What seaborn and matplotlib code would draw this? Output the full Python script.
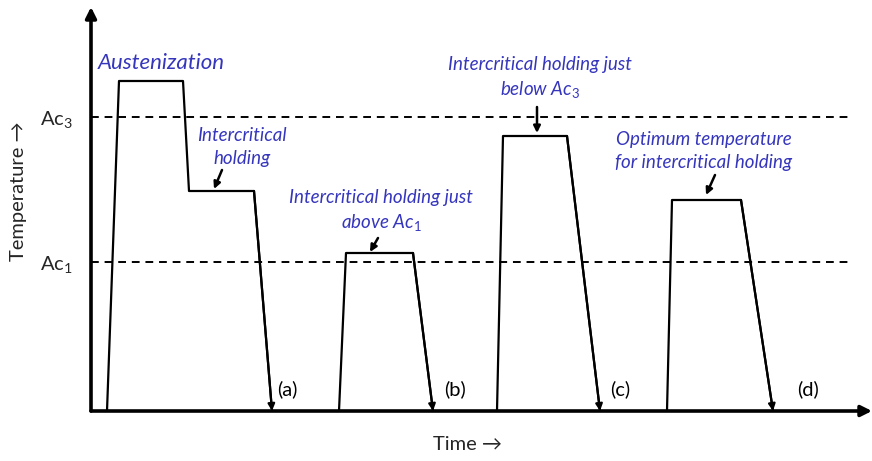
import matplotlib
matplotlib.use("Agg")
import matplotlib.pyplot as plt
import seaborn as sns
import pandas as pd

# Heat-treatment schedules (time in arbitrary units, temperature in arbitrary units)
profiles = ["a", "b", "c", "d"]
time_a = [16, 28, 92, 98, 163, 181]
temp_a = [0, 330, 330, 220, 220, 0]
time_b = [248, 255, 322, 342]
temp_b = [0, 158, 158, 0]
time_c = [406, 412, 476, 509]
temp_c = [0, 275, 275, 0]
time_d = [576, 581, 650, 682]
temp_d = [0, 211, 211, 0]

ac1 = 149
ac3 = 294
critical_ticks = [ac1, ac3]
critical_labels = ["Ac$_1$", "Ac$_3$"]

sns.set_theme(style="white")
plt.rcParams["font.family"] = ["Lato", "DejaVu Sans"]
plt.rcParams["mathtext.fontset"] = "custom"
plt.rcParams["mathtext.rm"] = "Lato"
plt.rcParams["mathtext.it"] = "Lato:italic"

frames = []
for name, t, T in zip(profiles,
                      [time_a, time_b, time_c, time_d],
                      [temp_a, temp_b, temp_c, temp_d]):
    frames.append(pd.DataFrame({"time": t, "temp": T, "profile": name}))
df = pd.concat(frames, ignore_index=True)

fig = plt.figure(figsize=(8.72, 4.61), dpi=100)
ax = fig.add_axes([91 / 872, 50 / 461, 781 / 872, 404 / 461])

sns.lineplot(data=df, x="time", y="temp", hue="profile", units="profile",
             estimator=None, sort=False, palette=["black"] * 4,
             linewidth=1.6, legend=False, ax=ax)

# arrowheads on the quench segments
for t, T in zip([time_a, time_b, time_c, time_d], [temp_a, temp_b, temp_c, temp_d]):
    ax.annotate("", xy=(t[-1], T[-1]), xytext=(t[-2], T[-2]),
                arrowprops=dict(arrowstyle="-|>", lw=1.6, color="black",
                                mutation_scale=10, shrinkA=0, shrinkB=0))

# critical temperatures
for y in critical_ticks:
    ax.axhline(y, xmin=0, xmax=757 / 781, color="black", lw=1.4,
               ls=(0, (4, 3)))

ax.set_xlim(0, 781)
ax.set_ylim(0, 404)
ax.set_xticks([])
ax.set_yticks(critical_ticks)
ax.set_yticklabels(critical_labels, fontsize=14.5)
ax.tick_params(axis="y", length=0, pad=13)

for s in ax.spines.values():
    s.set_visible(False)

# axes drawn as arrows
ax.annotate("", xy=(0, 1.0), xytext=(0, 0), xycoords="axes fraction",
            arrowprops=dict(arrowstyle="-|>", lw=2.6, color="black",
                            mutation_scale=16, shrinkA=0, shrinkB=0))
ax.annotate("", xy=(1.0, 0), xytext=(0, 0), xycoords="axes fraction",
            arrowprops=dict(arrowstyle="-|>", lw=2.6, color="black",
                            mutation_scale=16, shrinkA=0, shrinkB=0))

ax.set_xlabel("Time →", fontsize=14.5, family=["Lato", "DejaVu Sans"])
ax.set_ylabel("Temperature →", fontsize=14.5, family=["Lato", "DejaVu Sans"])
ax.xaxis.set_label_coords((467 - 91) / 781, -(436 - 411) / 404)
ax.yaxis.set_label_coords((27 - 91) / 781, (411 - 191) / 404)

blue = "#3636bd"
txt = dict(color=blue, style="italic", ha="center", va="center",
           linespacing=1.4)

ax.text(70, 348, "Austenization", fontsize=16, **txt)
ax.text(151, 264, "Intercritical\nholding", fontsize=13.5, **txt)
ax.text(290, 200, "Intercritical holding just\nabove Ac$_1$", fontsize=13.5, **txt)
ax.text(449, 333, "Intercritical holding just\nbelow Ac$_3$", fontsize=13.5, **txt)
ax.text(613, 260, "Optimum temperature\nfor intercritical holding", fontsize=13.5, **txt)

arrow_kw = dict(arrowstyle="-|>", lw=1.8, color="black", mutation_scale=10,
                shrinkA=0, shrinkB=0)
for start, end in [((131, 241), (123, 222)),
                   ((287, 173), (279, 159)),
                   ((446, 304), (446, 278)),
                   ((624, 236), (615, 216))]:
    ax.annotate("", xy=end, xytext=start, arrowprops=arrow_kw)

for label, x in zip(["(a)", "(b)", "(c)", "(d)"], [196, 364, 529, 717]):
    ax.text(x, 22, label, fontsize=14.5, color="black", ha="center", va="center")

fig.savefig("out.png", dpi=100)
